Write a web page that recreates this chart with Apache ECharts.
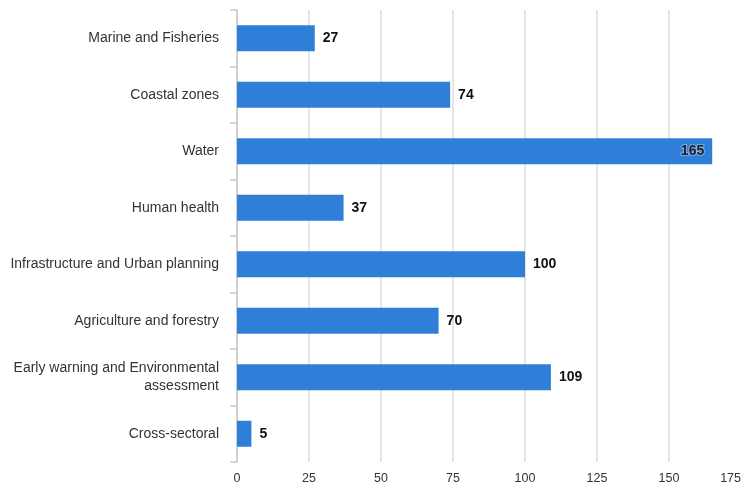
<!DOCTYPE html>
<html><head><meta charset="utf-8">
<script src="https://cdn.jsdelivr.net/npm/echarts@6/dist/echarts.min.js"></script>
<style>html,body{margin:0;padding:0;background:#fff}#c{width:744px;height:487px}</style>
</head><body><div id="c"></div>
<script>
const categories = ["Marine and Fisheries","Coastal zones","Water","Human health","Infrastructure and Urban planning","Agriculture and forestry","Early warning and Environmental\nassessment","Cross-sectoral"];
const values = [27, 74, 165, 37, 100, 70, 109, 5];
const xTicks = [0, 25, 50, 75, 100, 125, 150, 175];

const chart = echarts.init(document.getElementById('c'));
chart.setOption({
  animation: false,
  grid: {left: 237, right: 0, top: 10, bottom: 25, containLabel: false},
  xAxis: {
    type: 'value', min: xTicks[0], max: xTicks[xTicks.length-1], interval: 25,
    axisLine: {show: false}, axisTick: {show: false},
    splitLine: {showMaxLine: false, lineStyle: {color: '#dcdcdc', width: 1.5}},
    axisLabel: {color: '#333', fontFamily: 'Liberation Sans', fontSize: 12.5, margin: 10, alignMaxLabel: 'right'}
  },
  yAxis: {
    type: 'category', data: categories, inverse: true,
    axisLine: {show: true, lineStyle: {color: '#c8c8c8', width: 1.5}},
    axisTick: {show: true, length: 7, lineStyle: {color: '#c8c8c8', width: 1.5}},
    axisLabel: {color: '#333', fontFamily: 'Liberation Sans', fontSize: 14, margin: 18, lineHeight: 18, align: 'right'}
  },
  series: [{
    type: 'bar', barWidth: 26,
    itemStyle: {color: '#2f7ed8'},
    data: values.map(v => v >= 150 ? {value: v, label: {position: 'insideRight', color: '#222', textBorderColor: 'rgba(255,255,255,0.35)', textBorderWidth: 2}} : v),
    label: {show: true, position: 'right', distance: 8, color: '#111', fontWeight: 'bold', fontFamily: 'Liberation Sans', fontSize: 14}
  }]
});
</script></body></html>
